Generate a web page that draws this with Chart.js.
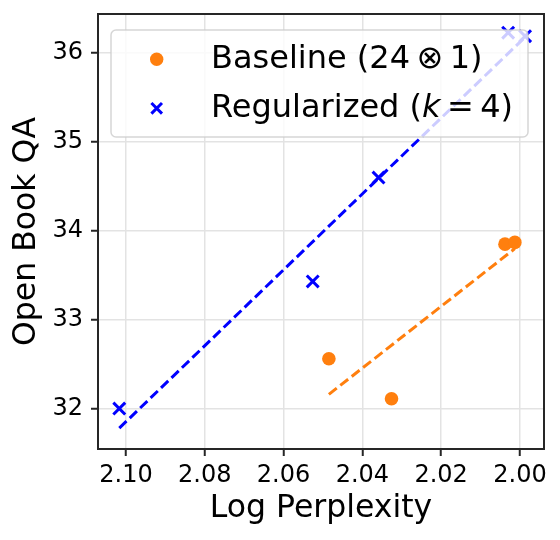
<!DOCTYPE html>
<html>
<head>
<meta charset="utf-8">
<script src="https://cdn.jsdelivr.net/npm/chart.js@4.4.0/dist/chart.umd.min.js"></script>
<style>
  html, body { margin: 0; padding: 0; background: #fff; }
  #wrap { width: 560px; height: 540px; }
</style>
</head>
<body>
<div id="wrap"><canvas id="chart" width="560" height="540"></canvas></div>
<script>
// values
const baselineX = [2.0485, 2.0326, 2.0038, 2.0013];
const baselineY = [32.56, 32.11, 33.85, 33.87];
const regX = [2.1017, 2.0526, 2.0359, 2.0030, 1.9987];
const regY = [32.00, 33.43, 34.60, 36.23, 36.19];

// dashed trend lines (end points)
const baseFitX = [2.0485, 2.0013];
const baseFitY = [32.16, 33.80];
const regFitX = [2.1017, 1.9987];
const regFitY = [31.78, 36.18];

const xTicks = [2.10, 2.08, 2.06, 2.04, 2.02, 2.00];
const yTicks = [32, 33, 34, 35, 36];

const ORANGE = '#ff7f0e';
const BLUE = '#0000ff';
const AXIS = '#262626';

Chart.defaults.font.family = "'DejaVu Sans', sans-serif";
Chart.defaults.color = '#000';

const pts = (xs, ys) => xs.map((x, i) => ({ x: x, y: ys[i] }));

// frame on all four sides (matplotlib spines)
const framePlugin = {
  id: 'frame',
  afterDraw(chart) {
    const { ctx, chartArea: a } = chart;
    ctx.save();
    ctx.strokeStyle = AXIS;
    ctx.lineWidth = 2;
    ctx.strokeRect(a.left, a.top, a.right - a.left, a.bottom - a.top);
    ctx.restore();
  }
};

// legend drawn inside the plot, like matplotlib's 'upper right'
const legendPlugin = {
  id: 'innerLegend',
  afterDatasetsDraw(chart) {
    const { ctx, chartArea: a } = chart;
    const bx = a.left + 13, by = a.top + 16, bw = 417, bh = 107;
    ctx.save();
    ctx.beginPath();
    ctx.roundRect(bx, by, bw, bh, 5);
    ctx.fillStyle = 'rgba(255,255,255,0.8)';
    ctx.fill();
    ctx.strokeStyle = 'rgba(204,204,204,0.8)';
    ctx.lineWidth = 1.5;
    ctx.stroke();

    const mx = a.left + 58.7;
    const tx = a.left + 113;
    const row1 = a.top + 54.3, row2 = a.top + 102.7;

    // orange dot
    ctx.beginPath();
    ctx.arc(mx, a.top + 45.3, 6.7, 0, Math.PI * 2);
    ctx.fillStyle = ORANGE;
    ctx.fill();

    // blue x
    const cy = a.top + 94.3, r = 5.3;
    ctx.beginPath();
    ctx.moveTo(mx - r, cy - r); ctx.lineTo(mx + r, cy + r);
    ctx.moveTo(mx - r, cy + r); ctx.lineTo(mx + r, cy - r);
    ctx.strokeStyle = BLUE;
    ctx.lineWidth = 3;
    ctx.stroke();

    ctx.fillStyle = '#000';
    ctx.textBaseline = 'alphabetic';
    ctx.textAlign = 'left';
    const normal = "32px 'DejaVu Sans'";
    const italic = "oblique 32px 'DejaVu Sans'";
    ctx.font = normal;
    ctx.fillText('Baseline (24\u2009\u2297\u20091)', tx, row1);

    let x = tx;
    const parts = [['Regularized (', normal], ['k', italic], ['\u2009=\u20094)', normal]];
    parts.forEach(([s, f]) => {
      ctx.font = f;
      ctx.fillText(s, x, row2);
      x += ctx.measureText(s).width;
    });
    ctx.restore();
  }
};

new Chart(document.getElementById('chart'), {
  type: 'scatter',
  data: {
    datasets: [
      {
        label: 'Baseline',
        data: pts(baselineX, baselineY),
        backgroundColor: ORANGE,
        borderColor: ORANGE,
        pointRadius: 6.8,
        pointHoverRadius: 6.8,
        borderWidth: 0,
        order: 1
      },
      {
        label: 'Regularized',
        data: pts(regX, regY),
        pointStyle: 'crossRot',
        borderColor: BLUE,
        backgroundColor: BLUE,
        pointRadius: 8.4,
        pointHoverRadius: 8.4,
        borderWidth: 3,
        order: 1
      },
      {
        label: 'Baseline fit',
        data: pts(baseFitX, baseFitY),
        showLine: true,
        pointRadius: 0,
        borderColor: ORANGE,
        borderWidth: 3,
        borderDash: [10, 4.5],
        order: 2
      },
      {
        label: 'Regularized fit',
        data: pts(regFitX, regFitY),
        showLine: true,
        pointRadius: 0,
        borderColor: BLUE,
        borderWidth: 3,
        borderDash: [10, 4.5],
        order: 2
      }
    ]
  },
  options: {
    responsive: false,
    animation: false,
    devicePixelRatio: 1,
    layout: { padding: { left: 0, right: 16, top: 14, bottom: 0 } },
    plugins: {
      legend: { display: false },
      tooltip: { enabled: false }
    },
    scales: {
      x: {
        type: 'linear',
        reverse: true,
        min: 1.9939,
        max: 2.1071,
        afterBuildTicks: (s) => { s.ticks = xTicks.map(v => ({ value: v })); },
        afterFit: (s) => { s.height = 91; s.paddingLeft = 0; s.paddingRight = 0; },
        ticks: {
          font: { size: 24 },
          padding: 5,
          callback: (v) => Number(v).toFixed(2)
        },
        grid: { color: '#e3e3e3', lineWidth: 1.5, tickLength: 7, tickColor: AXIS, tickWidth: 2 },
        border: { color: AXIS, width: 2 },
        title: { display: true, text: 'Log Perplexity', font: { size: 31.5 }, padding: { top: 0, bottom: 12 } }
      },
      y: {
        min: 31.545,
        max: 36.44,
        afterBuildTicks: (s) => { s.ticks = yTicks.map(v => ({ value: v })); },
        afterFit: (s) => { s.width = 98; s.paddingTop = 0; s.paddingBottom = 0; },
        ticks: {
          font: { size: 24 },
          padding: 8,
          callback: (v) => String(v)
        },
        grid: { color: '#e3e3e3', lineWidth: 1.5, tickLength: 7, tickColor: AXIS, tickWidth: 2 },
        border: { color: AXIS, width: 2 },
        title: { display: true, text: 'Open Book QA', font: { size: 31.5 }, padding: { top: 7.5, bottom: 0 } }
      }
    }
  },
  plugins: [framePlugin, legendPlugin]
});
</script>
</body>
</html>
